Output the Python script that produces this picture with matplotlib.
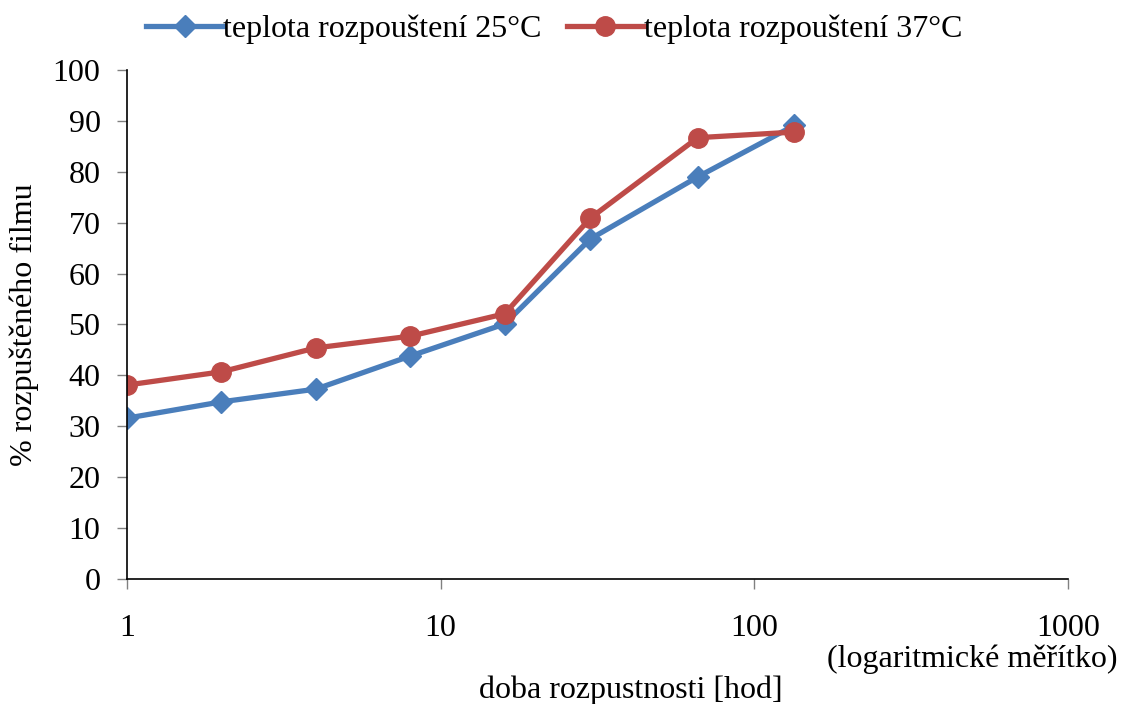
import numpy as np
import matplotlib.pyplot as plt
from matplotlib.ticker import FixedLocator, NullLocator, FixedFormatter

plt.rcParams['font.family'] = ['Liberation Serif', 'DejaVu Serif']

# doba rozpustnosti [hod]
hours = [1, 2, 4, 8, 16, 30, 66, 134]
film_25 = [31.6, 34.8, 37.3, 43.8, 50.1, 66.8, 79.0, 89.1]
film_37 = [38.1, 40.7, 45.4, 47.7, 52.1, 70.9, 86.7, 87.8]

blue = '#4A7EBB'
red = '#BE4B48'
fs = 23

fig = plt.figure(figsize=(11.22, 7.04), dpi=100)
ax = fig.add_axes([0.1132, 0.1776, 0.8387, 0.7230])

ax.plot(hours, film_25, color=blue, lw=3.8, marker='D', ms=11.5,
        label='teplota rozpouštení 25°C')
ax.plot(hours, film_37, color=red, lw=3.8, marker='o', ms=14,
        label='teplota rozpouštení 37°C')

ax.set_xscale('log')
ax.set_xlim(1, 1000)
ax.set_ylim(0, 100)
ax.xaxis.set_major_locator(FixedLocator([1, 10, 100, 1000]))
ax.xaxis.set_major_formatter(FixedFormatter(['1', '10', '100', '1000']))
ax.xaxis.set_minor_locator(NullLocator())
ax.set_yticks(np.arange(0, 101, 10))

for side in ['top', 'right']:
    ax.spines[side].set_visible(False)
for side in ['left', 'bottom']:
    ax.spines[side].set_linewidth(1.2)

ax.tick_params(axis='both', labelsize=fs, length=7, width=1, color='#808080')
ax.tick_params(axis='x', pad=18)
ax.tick_params(axis='y', pad=12)

ax.set_ylabel('% rozpuštěného filmu', fontsize=fs, labelpad=10)
fig.text(0.562, 0.008, 'doba rozpustnosti [hod]', fontsize=fs, ha='center')
fig.text(0.996, 0.052, '(logaritmické měřítko)', fontsize=fs, ha='right')

ax.legend(loc='lower center', bbox_to_anchor=(0.454, 1.0), ncol=2, frameon=False,
          fontsize=fs, handlelength=2.4, handletextpad=0.0, columnspacing=0.8,
          borderaxespad=0.4)

fig.savefig('out.png', dpi=100)
